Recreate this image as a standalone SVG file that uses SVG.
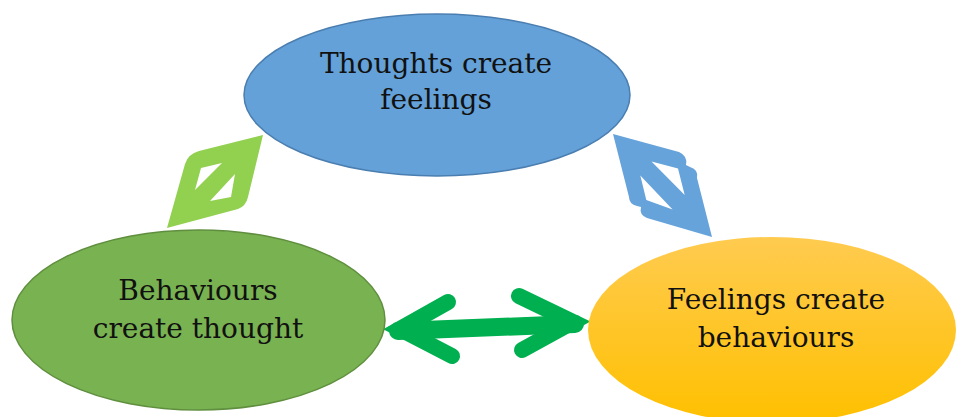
<svg xmlns="http://www.w3.org/2000/svg" width="956" height="417" viewBox="0 0 956 417">
<defs>
<linearGradient id="yg" x1="0" y1="0" x2="0" y2="1">
<stop offset="0" stop-color="#FFCB50"/>
<stop offset="1" stop-color="#FFC000"/>
</linearGradient>
</defs>
<style>
text{font-family:"DejaVu Serif","Liberation Serif",serif;font-size:28px;fill:#111;text-anchor:middle}
</style>
<rect width="956" height="417" fill="#fff"/>
<g id="connectors">
<path id="lime-arrow" fill="#92D050" fill-rule="evenodd" d="M263,135 L199,151 Q188,154 185,164 L167,228 L238,209 Q246,206 248,197 Z M201,168 L222,163 L195,190 Z M235,174 L231,197 L210,201 Z"/>
<path id="blue-arrow" fill="#66A3DA" fill-rule="evenodd" d="M613,134 L679,152 Q688,156 686,165 L690,167 Q699,170 697,178 L712,237 L647,218 Q639,215 641,207 L637,206 Q629,204 629,197 Z M651.5,161.4 L678,168.6 L684.7,195 Z M640.3,175.5 L646.3,200 L672.6,209.4 Z"/>
<g id="green-arrow" fill="none" stroke="#00B050" stroke-width="16" stroke-linecap="round" stroke-linejoin="miter" stroke-miterlimit="10">
<path d="M448,302 L400,329 L452,356"/>
<path d="M398,331 L575,324" stroke-width="18"/>
<path d="M519,296 L573,322 L522,350"/>
</g>
</g>
<g id="thoughts">
<ellipse cx="437" cy="95" rx="193" ry="81" fill="#64A1D8" stroke="#4A7EB0" stroke-width="1.5"/>
<text x="436" y="73">Thoughts create</text>
<text x="436" y="109">feelings</text>
</g>
<g id="behaviours">
<ellipse cx="198.5" cy="320" rx="186.5" ry="90" fill="#79B251" stroke="#5F8F3E" stroke-width="1.5"/>
<text x="198" y="300">Behaviours</text>
<text x="198" y="338">create thought</text>
</g>
<g id="feelings">
<ellipse cx="772" cy="330" rx="184" ry="93" fill="url(#yg)"/>
<text x="776" y="309">Feelings create</text>
<text x="776" y="347">behaviours</text>
</g>
</svg>
